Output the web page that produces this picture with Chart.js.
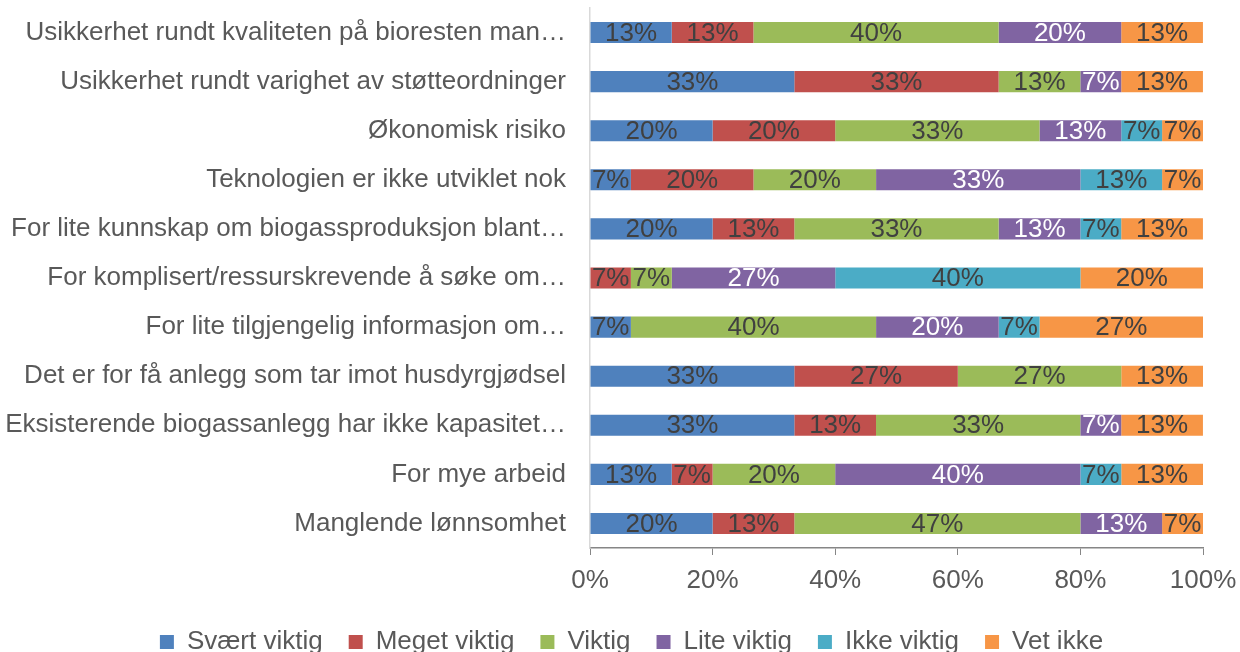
<!DOCTYPE html>
<html>
<head>
<meta charset="utf-8">
<script src="https://cdn.jsdelivr.net/npm/chart.js@4/dist/chart.umd.min.js"></script>
<style>
  html, body { margin: 0; padding: 0; background: #ffffff; }
  #wrap { width: 1240px; height: 652px; position: relative; }
</style>
</head>
<body>
<div id="wrap"><canvas id="c"></canvas></div>
<script>
const categories = [
  "Usikkerhet rundt kvaliteten på bioresten man…",
  "Usikkerhet rundt varighet av støtteordninger",
  "Økonomisk risiko",
  "Teknologien er ikke utviklet nok",
  "For lite kunnskap om biogassproduksjon blant…",
  "For komplisert/ressurskrevende å søke om…",
  "For lite tilgjengelig informasjon om…",
  "Det er for få anlegg som tar imot husdyrgjødsel",
  "Eksisterende biogassanlegg har ikke kapasitet…",
  "For mye arbeid",
  "Manglende lønnsomhet"
];
const seriesNames = ["Svært viktig", "Meget viktig", "Viktig", "Lite viktig", "Ikke viktig", "Vet ikke"];
const svaertViktig = [13.33, 33.33, 20, 6.67, 20, 0, 6.67, 33.33, 33.33, 13.33, 20];
const megetViktig  = [13.33, 33.33, 20, 20, 13.33, 6.67, 0, 26.67, 13.33, 6.67, 13.33];
const viktig       = [40, 13.33, 33.33, 20, 33.33, 6.67, 40, 26.67, 33.33, 20, 46.67];
const liteViktig   = [20, 6.67, 13.33, 33.33, 13.33, 26.67, 20, 0, 6.67, 40, 13.33];
const ikkeViktig   = [0, 0, 6.67, 13.33, 6.67, 40, 6.67, 0, 0, 6.67, 0];
const vetIkke      = [13.33, 13.33, 6.67, 6.67, 13.33, 20, 26.67, 13.33, 13.33, 13.33, 6.67];
const xTickLabels = ["0%", "20%", "40%", "60%", "80%", "100%"];

const seriesValues = [svaertViktig, megetViktig, viktig, liteViktig, ikkeViktig, vetIkke];
const colors = ["#4F81BD", "#C0504D", "#9BBB59", "#8064A2", "#4BACC6", "#F79646"];
const labelColors = ["#404040", "#404040", "#404040", "#FFFFFF", "#404040", "#404040"];
const FONT = "'Liberation Sans', Arial, sans-serif";

const dataLabels = {
  id: 'dataLabels',
  afterDatasetsDraw(chart) {
    const ctx = chart.ctx;
    ctx.save();
    ctx.font = "26px " + FONT;
    ctx.textAlign = 'center';
    ctx.textBaseline = 'middle';
    chart.data.datasets.forEach((ds, i) => {
      const meta = chart.getDatasetMeta(i);
      meta.data.forEach((bar, j) => {
        const v = ds.data[j];
        if (!v) return;
        const p = bar.getProps(['x', 'y', 'base'], true);
        ctx.fillStyle = labelColors[i];
        ctx.fillText(Math.round(v) + '%', (p.x + p.base) / 2, p.y + 1);
      });
    });
    ctx.restore();
  }
};

const legendShift = {
  id: 'legendShift',
  afterLayout(chart) {
    const l = chart.legend;
    if (l) { l.left += 30; l.right += 30; }
  }
};

new Chart(document.getElementById('c'), {
  type: 'bar',
  data: {
    labels: categories,
    datasets: seriesNames.map((n, i) => ({
      label: n,
      data: seriesValues[i],
      backgroundColor: colors[i],
      borderWidth: 0,
      categoryPercentage: 1,
      barPercentage: 0.43
    }))
  },
  options: {
    indexAxis: 'y',
    responsive: true,
    maintainAspectRatio: false,
    animation: false,
    layout: { padding: { top: 8, right: 37, bottom: -13, left: 0 } },
    scales: {
      x: {
        stacked: true,
        min: 0,
        max: 100,
        afterBuildTicks(scale) {
          scale.ticks = xTickLabels.map((t, i) => ({ value: i * 20 }));
        },
        afterFit(scale) { scale.height = 55; scale.paddingRight = 0; scale.paddingLeft = 0; },
        grid: { drawOnChartArea: false, drawTicks: true, tickLength: 7, color: '#868686' },
        border: { display: true, color: '#868686', width: 1.5 },
        ticks: {
          padding: 10,
          color: '#595959',
          font: { family: FONT, size: 26 },
          callback: (v, i) => xTickLabels[i]
        }
      },
      y: {
        stacked: true,
        afterFit(scale) { scale.width = 590; scale.paddingTop = 0; scale.paddingBottom = 0; },
        grid: { display: false, drawTicks: false },
        border: { display: true, color: '#D9D9D9', width: 1.5 },
        ticks: {
          padding: 24,
          color: '#595959',
          font: { family: FONT, size: 26 }
        }
      }
    },
    plugins: {
      legend: {
        position: 'bottom',
        labels: {
          boxWidth: 14,
          boxHeight: 14,
          padding: 26,
          color: '#595959',
          font: { family: FONT, size: 26 }
        }
      },
      tooltip: { enabled: false }
    }
  },
  plugins: [dataLabels, legendShift]
});
</script>
</body>
</html>
